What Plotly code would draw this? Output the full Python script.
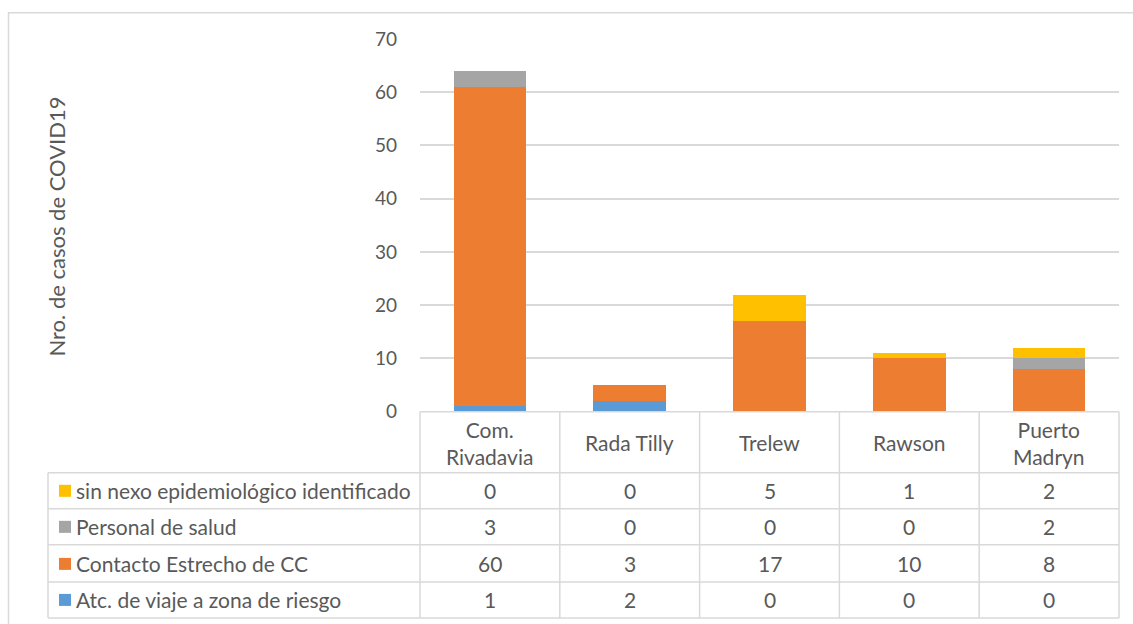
import plotly.graph_objects as go

categories = ["Com.<br>Rivadavia", "Rada Tilly", "Trelew", "Rawson", "Puerto<br>Madryn"]
series_names = ["Atc. de viaje a zona de riesgo", "Contacto Estrecho de CC",
                "Personal de salud", "sin nexo epidemiológico identificado"]
viaje = [1, 2, 0, 0, 0]
contacto = [60, 3, 17, 10, 8]
salud = [3, 0, 0, 0, 2]
sin_nexo = [0, 0, 5, 1, 2]
series_values = [viaje, contacto, salud, sin_nexo]
colors = ["#5B9BD5", "#ED7D31", "#A5A5A5", "#FFC000"]
y_ticks = [0, 10, 20, 30, 40, 50, 60, 70]

W, H = 1133, 636
# layout positions below are given in target-image pixels; convert to page pixels
S, OFF = 0.963, 11.6
FONT = "Lato"
TXT = "#595959"
LINE = "#D9D9D9"
FS = 21

def px(x):
    return x / W

def py(y):
    return 1 - ((y - OFF) / S) / H

x0, x1 = 420, 1119
y_top, y_bot = 38.5, 411

fig = go.Figure()
for name, vals, col in zip(series_names, series_values, colors):
    fig.add_trace(go.Bar(x=list(range(len(categories))), y=vals, name=name,
                         marker=dict(color=col, line=dict(width=0)),
                         width=0.52, showlegend=False))

fig.update_layout(
    width=W, height=H, barmode="stack",
    margin=dict(l=0, r=0, t=0, b=0),
    paper_bgcolor="white", plot_bgcolor="white",
    font=dict(family=FONT, size=FS, color=TXT),
    xaxis=dict(domain=[px(x0), px(x1)], range=[-0.5, 4.5], showticklabels=False,
               showgrid=False, zeroline=False, fixedrange=True),
    yaxis=dict(domain=[py(y_bot), py(y_top)], range=[0, 70], tickvals=y_ticks,
               showgrid=True, gridcolor=LINE, gridwidth=1.5, zeroline=False,
               ticks="", ticklabelstandoff=22,
               tickfont=dict(size=19, color=TXT, family=FONT)),
)

shapes = []
shapes.append(dict(type="rect", xref="paper", yref="paper",
                   x0=px(8.5), x1=px(1140), y0=-0.1, y1=py(12.3),
                   line=dict(color=LINE, width=1.5)))

row_edges = [472, 508, 544, 581, 617]
col_edges = [x0 + i * (x1 - x0) / 5 for i in range(6)]
legend_left = 48

for cx in col_edges:
    shapes.append(dict(type="line", xref="paper", yref="paper",
                       x0=px(cx), x1=px(cx), y0=py(y_bot), y1=py(row_edges[-1]),
                       line=dict(color=LINE, width=1.5)))
shapes.append(dict(type="line", xref="paper", yref="paper",
                   x0=px(legend_left), x1=px(legend_left), y0=py(472), y1=py(row_edges[-1]),
                   line=dict(color=LINE, width=1.5)))
shapes.append(dict(type="line", xref="paper", yref="paper",
                   x0=px(x0), x1=px(x1), y0=py(y_bot), y1=py(y_bot),
                   line=dict(color=LINE, width=1.5)))
for ry in row_edges:
    shapes.append(dict(type="line", xref="paper", yref="paper",
                       x0=px(legend_left), x1=px(x1), y0=py(ry), y1=py(ry),
                       line=dict(color=LINE, width=1.5)))

annotations = []
for i, cat in enumerate(categories):
    cx = (col_edges[i] + col_edges[i + 1]) / 2
    annotations.append(dict(xref="paper", yref="paper", x=px(cx), y=py(442),
                            text=cat, showarrow=False, xanchor="center", yanchor="middle",
                            font=dict(size=FS, color=TXT, family=FONT)))

row_centers = [490, 526, 563, 599]
row_order = list(range(len(series_names)))[::-1]
for r, si in enumerate(row_order):
    cy = row_centers[r]
    shapes.append(dict(type="rect", xref="paper", yref="paper",
                       x0=px(59), x1=px(71), y0=py(cy + 6), y1=py(cy - 6),
                       fillcolor=colors[si], line=dict(width=0)))
    annotations.append(dict(xref="paper", yref="paper", x=px(74), y=py(cy),
                            text=series_names[si], showarrow=False,
                            xanchor="left", yanchor="middle",
                            font=dict(size=FS, color=TXT, family=FONT)))
    for i, v in enumerate(series_values[si]):
        cx = (col_edges[i] + col_edges[i + 1]) / 2
        annotations.append(dict(xref="paper", yref="paper", x=px(cx), y=py(cy),
                                text=str(v), showarrow=False,
                                xanchor="center", yanchor="middle",
                                font=dict(size=FS, color=TXT, family=FONT)))

annotations.append(dict(xref="paper", yref="paper", x=px(57), y=py(226),
                        text="Nro. de casos de COVID19", textangle=-90, showarrow=False,
                        xanchor="center", yanchor="middle",
                        font=dict(size=22, color=TXT, family=FONT)))

fig.update_layout(shapes=shapes, annotations=annotations)
post = ("document.body.style.margin='0';document.body.style.overflow='hidden';"
        "document.documentElement.style.overflow='hidden';")
fig.write_html("out.html", config={"displayModeBar": False}, post_script=post)
